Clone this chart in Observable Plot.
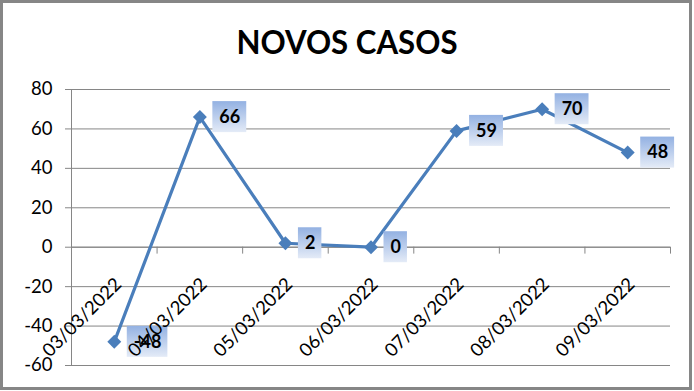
<!DOCTYPE html>
<html>
<head>
<meta charset="utf-8">
<script src="https://cdn.jsdelivr.net/npm/d3@7"></script>
<script src="https://cdn.jsdelivr.net/npm/@observablehq/plot@0.6"></script>
<style>
  html, body { margin: 0; padding: 0; background: #fff; }
  #wrap { position: relative; width: 694px; height: 391px; overflow: hidden; }
  #border { position: absolute; left: 0; top: 0; width: 692px; height: 390px; box-sizing: border-box;
            border: 3px solid #868686; pointer-events: none; }
  #chart { position: absolute; left: 0; top: 0; }
</style>
</head>
<body>
<div id="wrap"><div id="chart"></div><div id="border"></div></div>
<script>
const title = "NOVOS CASOS";
const dates = ["03/03/2022", "04/03/2022", "05/03/2022", "06/03/2022", "07/03/2022", "08/03/2022", "09/03/2022"];
const values = [-48, 66, 2, 0, 59, 70, 48];
const yTicks = [-60, -40, -20, 0, 20, 40, 60, 80];

const data = dates.map((d, i) => ({i, date: d, value: values[i]}));
const boundaries = dates.map((d, i) => i + 0.5).concat([-0.5]);

const lineColor = "#4a7ebb";
const gridColor = "#868686";
const font = "Lato, 'Open Sans', sans-serif";

const canvas = document.createElement("canvas");
const ctx2d = canvas.getContext("2d");
ctx2d.font = "bold 18px Lato";

const labelMark = Plot.text(data, {
  x: "i", y: "value", text: d => String(d.value),
  textAnchor: "start", dx: 19.5, fontWeight: "bold", fontSize: 18, fill: "#000",
  render(index, scales, values, dimensions, context, next) {
    const g = d3.create("svg:g");
    const defs = g.append("defs");
    const grad = defs.append("linearGradient").attr("id", "lblGrad")
      .attr("x1", 0).attr("y1", 0).attr("x2", 0).attr("y2", 1);
    grad.append("stop").attr("offset", "0%").attr("stop-color", "#93b1e2");
    grad.append("stop").attr("offset", "100%").attr("stop-color", "#e4ebf7");
    const X = values.x, Y = values.y;
    for (const i of index) {
      const tw = ctx2d.measureText(String(data[i].value)).width;
      g.append("rect")
        .attr("x", X[i] + 13).attr("y", Y[i] - 15.5)
        .attr("width", tw + 13).attr("height", 31)
        .attr("fill", "url(#lblGrad)");
    }
    const t = next(index, scales, values, dimensions, context);
    g.append(() => t);
    return g.node();
  }
});

const plot = Plot.plot({
  width: 694,
  height: 391,
  marginLeft: 71,
  marginRight: 24,
  marginTop: 89,
  marginBottom: 26,
  style: {fontFamily: font, fontSize: "18px", color: "#000", background: "transparent", overflow: "visible"},
  x: {domain: [-0.5, 6.5], axis: null},
  y: {domain: [-60, 80], axis: null},
  marks: [
    Plot.gridY(yTicks, {stroke: gridColor, strokeOpacity: 1, strokeWidth: 1}),
    Plot.axisY(yTicks, {tickSize: 6, tickPadding: 13, stroke: gridColor, strokeOpacity: 1,
      tickFormat: d => String(d), fontSize: 18.5, fill: "#000", label: null}),
    Plot.ruleX([-0.5], {y1: -60, y2: 80, stroke: gridColor}),
    Plot.ruleY([0], {stroke: gridColor}),
    Plot.ruleX(boundaries, {x: d => d, y1: 0, y2: -3.5, stroke: gridColor}),
    Plot.line(data, {x: "i", y: "value", stroke: lineColor, strokeWidth: 3.2}),
    Plot.dot(data, {x: "i", y: "value", symbol: "diamond2", r: 6.3, fill: lineColor, stroke: "none"}),
    labelMark,
    Plot.text(data, {x: "i", y: 0, text: "date", rotate: -45, textAnchor: "end",
      dx: 4, dy: 34, fontSize: 18.5, fill: "#000"})
  ]
});

d3.select(plot).append("text")
  .attr("x", 347).attr("y", 54)
  .attr("text-anchor", "middle")
  .attr("font-family", font)
  .attr("font-weight", "bold")
  .attr("font-size", 33)
  .attr("textLength", 221)
  .attr("lengthAdjust", "spacingAndGlyphs")
  .attr("fill", "#000")
  .text(title);

document.getElementById("chart").appendChild(plot);
</script>
</body>
</html>
